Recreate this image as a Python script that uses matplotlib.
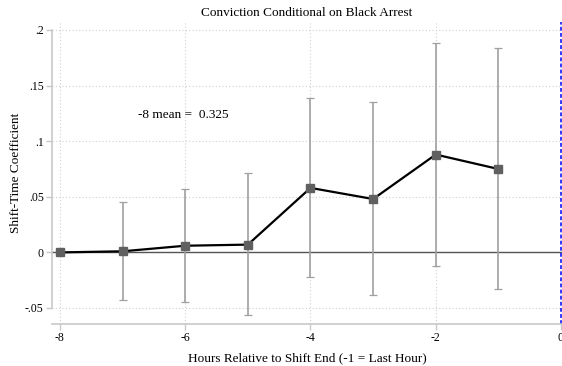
import matplotlib.pyplot as plt

plt.rcParams['font.family'] = ['Liberation Serif', 'DejaVu Serif']

hours = [-8, -7, -6, -5, -4, -3, -2, -1]
coef = [0.0, 0.001, 0.006, 0.007, 0.058, 0.048, 0.088, 0.075]
ci_low = [0.0, -0.043, -0.045, -0.056, -0.022, -0.038, -0.012, -0.033]
ci_high = [0.0, 0.045, 0.057, 0.071, 0.139, 0.135, 0.188, 0.184]

yticks = [-0.05, 0, 0.05, 0.1, 0.15, 0.2]
ytick_labels = ['-.05', '0', '.05', '.1', '.15', '.2']
xticks = [-8, -6, -4, -2, 0]
base_mean = 0.325

W, H = 562, 366
fig = plt.figure(figsize=(W / 100, H / 100), dpi=100)
ax = fig.add_axes([52 / W, 1 - 324 / H, (562 - 52) / W, (324 - 22) / H])

ax.set_xlim(-8 - 8 * 8 / 501, 0 + 1 / 62.6)
ax.set_ylim(-0.05 - 16 / 1112, 0.2 + 8 / 1112)

# dotted grid
for y in yticks:
    ax.axhline(y, color='#d0d0d0', lw=0.8, ls=(0, (1, 2)), zorder=0)
for x in xticks[:-1]:
    ax.axvline(x, color='#d0d0d0', lw=0.8, ls=(0, (1, 2)), zorder=0)

ax.axhline(0, color='#555555', lw=1.0, zorder=1)
ax.axvline(-0.004, color='#0000ff', lw=1.1, ls=(0, (2.5, 1.5)), zorder=1, clip_on=False)

lo = [c - l for c, l in zip(coef, ci_low)]
hi = [h - c for c, h in zip(coef, ci_high)]
ax.errorbar(hours[1:], coef[1:], yerr=[lo[1:], hi[1:]], fmt='none',
            ecolor='#a0a0a0', elinewidth=1.2, capsize=3, capthick=0.9, zorder=2)
ax.plot(hours, coef, color='black', lw=1.6, zorder=3)
ax.plot(hours, coef, 's', color='#606060', ms=6, zorder=4)

ax.text(-6.754, 0.1236, '-8 mean =  ' + f'{base_mean:.3f}', fontsize=9.5,
        va='center', ha='left')

for s in ['top', 'right']:
    ax.spines[s].set_visible(False)
ax.spines['left'].set_bounds(-0.05, 0.2)
ax.spines['left'].set_color('#c8c8c8')
ax.spines['left'].set_linewidth(1.2)
ax.spines['bottom'].set_color('#c8c8c8')
ax.spines['bottom'].set_linewidth(1.2)

ax.set_yticks(yticks)
ax.set_yticklabels(ytick_labels)
ax.set_xticks(xticks)
ax.set_xticklabels([str(x) for x in xticks])
ax.tick_params(axis='both', labelsize=8.5, color='#c8c8c8', length=4, width=1.0, pad=2)

ax.set_ylabel('Shift-Time Coefficient', fontsize=9.5, labelpad=2)
ax.set_xlabel('Hours Relative to Shift End (-1 = Last Hour)', fontsize=9.5, labelpad=6)
ax.set_title('Conviction Conditional on Black Arrest', fontsize=9.5, pad=4)

fig.savefig('out.png', dpi=100)
